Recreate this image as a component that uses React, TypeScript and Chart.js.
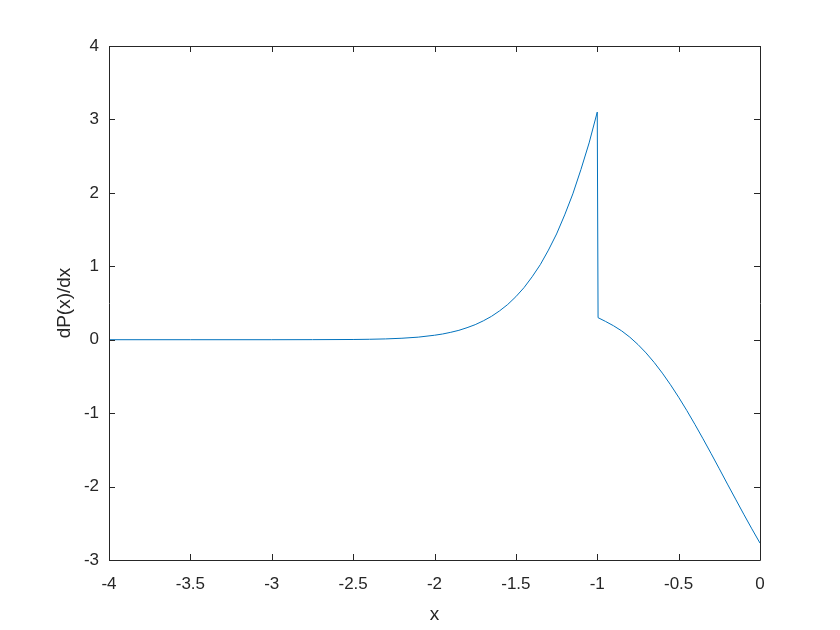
import React, { useEffect, useRef } from "react";
import { Chart, registerables } from "chart.js";

Chart.register(...registerables);

const xValues = [
  -4, -3.5, -3, -2.75, -2.5, -2.4, -2.3, -2.2, -2.1, -2.0, -1.95, -1.9, -1.85,
  -1.8, -1.75, -1.7, -1.65, -1.6, -1.55, -1.5, -1.45, -1.4, -1.35, -1.3, -1.25,
  -1.2, -1.15, -1.1, -1.05, -1.0,
  -0.995, -0.95, -0.9, -0.85, -0.8, -0.75, -0.7, -0.65, -0.6, -0.55, -0.5, -0.45,
  -0.4, -0.35, -0.3, -0.25, -0.2, -0.15, -0.1, -0.05, 0,
];
const yValues = [
  0, 0, 0, 0.001, 0.003, 0.006, 0.011, 0.02, 0.035, 0.061, 0.078, 0.101, 0.128,
  0.164, 0.205, 0.257, 0.318, 0.393, 0.48, 0.586, 0.709, 0.857, 1.022, 1.22,
  1.44, 1.7, 1.986, 2.32, 2.68, 3.1,
  0.3, 0.25, 0.19, 0.12, 0.035, -0.065, -0.18, -0.31, -0.455, -0.613, -0.783,
  -0.963, -1.153, -1.35, -1.552, -1.758, -1.966, -2.171, -2.376, -2.576, -2.77,
];
const xTicks = [-4, -3.5, -3, -2.5, -2, -1.5, -1, -0.5, 0];
const yTicks = [-3, -2, -1, 0, 1, 2, 3, 4];

const AXIS_COLOR = "#262626";
const LINE_COLOR = "#0072BD";
const FONT = "'Liberation Sans', Arial, sans-serif";

const boxPlugin = {
  id: "matlabBox",
  afterDraw(chart: any) {
    const { ctx, chartArea } = chart;
    const { left, right, top, bottom } = chartArea;
    const xs = chart.scales.x;
    const ys = chart.scales.y;
    ctx.save();
    ctx.strokeStyle = AXIS_COLOR;
    ctx.lineWidth = 1;
    ctx.beginPath();
    ctx.rect(Math.round(left) + 0.5, Math.round(top) + 0.5, Math.round(right - left), Math.round(bottom - top));
    ctx.stroke();
    const tl = 6;
    ctx.beginPath();
    for (const v of xTicks) {
      const px = Math.round(xs.getPixelForValue(v)) + 0.5;
      ctx.moveTo(px, bottom);
      ctx.lineTo(px, bottom - tl);
      ctx.moveTo(px, top);
      ctx.lineTo(px, top + tl);
    }
    for (const v of yTicks) {
      const py = Math.round(ys.getPixelForValue(v)) + 0.5;
      ctx.moveTo(left, py);
      ctx.lineTo(left + tl, py);
      ctx.moveTo(right, py);
      ctx.lineTo(right - tl, py);
    }
    ctx.stroke();
    ctx.restore();
  },
};

export default function App() {
  const canvasRef = useRef<HTMLCanvasElement | null>(null);

  useEffect(() => {
    document.body.style.margin = "0";
    const canvas = canvasRef.current;
    if (!canvas) return;
    const points = xValues.map((x, i) => ({ x, y: yValues[i] }));
    const chart = new Chart(canvas, {
      type: "line",
      data: {
        datasets: [
          {
            data: points,
            borderColor: LINE_COLOR,
            borderWidth: 1,
            pointRadius: 0,
            tension: 0,
            fill: false,
          },
        ],
      },
      options: {
        animation: false,
        responsive: false,
        maintainAspectRatio: false,
        layout: { padding: { left: 0, top: 46, right: 80, bottom: 0 } },
        plugins: { legend: { display: false }, tooltip: { enabled: false } },
        scales: {
          x: {
            type: "linear",
            min: -4,
            max: 0,
            afterBuildTicks: (scale: any) => {
              scale.ticks = xTicks.map((v) => ({ value: v }));
            },
            afterFit: (scale: any) => {
              scale.height = 70;
            },
            grid: { display: false, drawTicks: false },
            border: { display: false },
            ticks: {
              color: AXIS_COLOR,
              font: { family: FONT, size: 17 },
              padding: 14,
              maxRotation: 0,
              autoSkip: false,
              callback: (v: any) => String(v),
            },
            title: {
              display: true,
              text: "x",
              color: AXIS_COLOR,
              font: { family: FONT, size: 19 },
              padding: { top: 0, bottom: 4 },
            },
          },
          y: {
            type: "linear",
            min: -3,
            max: 4,
            afterBuildTicks: (scale: any) => {
              scale.ticks = yTicks.map((v) => ({ value: v }));
            },
            afterFit: (scale: any) => {
              scale.width = 109;
            },
            grid: { display: false, drawTicks: false },
            border: { display: false },
            ticks: {
              color: AXIS_COLOR,
              font: { family: FONT, size: 17 },
              padding: 10,
              autoSkip: false,
              callback: (v: any) => String(v),
            },
            title: {
              display: true,
              text: "dP(x)/dx",
              color: AXIS_COLOR,
              font: { family: FONT, size: 19 },
              padding: { top: 53, bottom: 0 },
            },
          },
        },
      },
      plugins: [boxPlugin],
    } as any);
    return () => chart.destroy();
  }, []);

  return (
    <div style={{ position: "absolute", left: 0, top: 0, width: 840, height: 630, background: "#fff" }}>
      <canvas ref={canvasRef} width={840} height={630} style={{ width: 840, height: 630, display: "block" }} />
    </div>
  );
}
